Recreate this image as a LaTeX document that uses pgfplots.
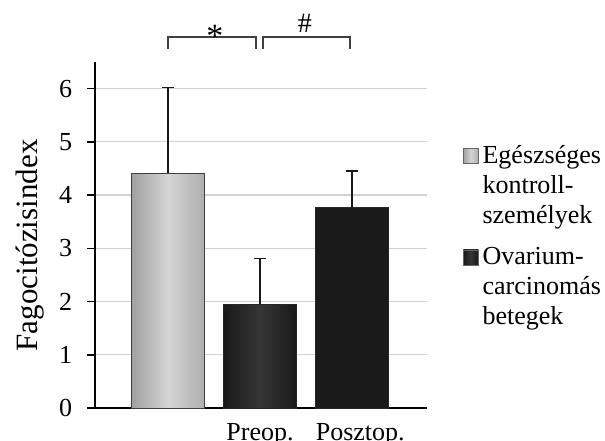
\documentclass[border=0pt]{standalone}
\usepackage{pgfplots}
\pgfplotsset{compat=1.18}
\usepackage{fontspec}
\setmainfont{Liberation Serif}
\definecolor{lgA}{HTML}{A0A0A0}
\definecolor{lgB}{HTML}{D4D4D4}
\definecolor{dkA}{HTML}{181818}
\definecolor{dkB}{HTML}{363636}
\definecolor{dk}{HTML}{1A1A1A}
\begin{document}
\fontsize{26}{30}\selectfont
\begin{tikzpicture}
\useasboundingbox (-95pt,-33pt) rectangle (510pt,408pt);
\begin{axis}[
  at={(0,0)}, anchor=south west,
  scale only axis, width=332pt, height=346pt,
  xmin=0.207, xmax=3.815, ymin=0, ymax=6.5,
  ybar, bar width=0.8, bar shift=0pt,
  axis lines*=left,
  axis line style={line width=1.5pt, black},
  ytick={0,...,6}, xtick={2,3.09}, xticklabels={Preop.,Posztop.},
  tick align=outside, major tick length=8pt,
  ytick style={line width=1.5pt, black},
  xtick style={draw=none},
  ymajorgrids, grid style={line width=1.3pt, black!18},
  /pgf/number format/assume math mode=true,
  tick label style={font=\fontsize{26}{30}\selectfont},
  yticklabel style={xshift=-6pt},
  xticklabel style={anchor=base, yshift=-25pt},
  ylabel={Fagocitózisindex},
  ylabel style={at={(axis description cs:-0.196,0.47)}, anchor=center, font=\fontsize{31}{31}\selectfont},
  clip=false,
  legend style={at={(axis cs:4.206,4.997)}, anchor=north west, draw=none, fill=none,
    inner sep=0pt, outer sep=0pt, row sep=77pt, column sep=4pt,
    nodes={inner sep=0pt, outer sep=0pt, anchor=base west},
    font=\fontsize{26}{30}\selectfont},
  legend image code/.code={\draw[#1, draw=black!60, line width=0.6pt] (0pt,0pt) rectangle (15pt,15pt);},
  error bars/y dir=plus, error bars/y explicit,
  error bars/error bar style={line width=1.5pt, black!90},
  error bars/error mark options={rotate=90, mark size=6pt, line width=1.5pt, black!90},
]
\addplot[draw=black!75, line width=0.8pt, left color=lgA, right color=lgA!85!white, middle color=lgB]
  coordinates {(1,4.41) +- (0,1.61)};
\addlegendentry{\begin{tabular}[t]{@{}l@{}}Egészséges\\kontroll-\\személyek\end{tabular}}
\addplot[draw=black!85, line width=0.8pt, left color=dkA, right color=dkA, middle color=dkB]
  coordinates {(2,1.95) +- (0,0.86)};
\addlegendentry{\begin{tabular}[t]{@{}l@{}}Ovarium-\\carcinomás\\betegek\end{tabular}}
\addplot[draw=black!85, line width=0.8pt, fill=dk, forget plot]
  coordinates {(3,3.76) +- (0,0.69)};
\draw[line width=1.2pt, black!75] (axis cs:1,6.745) -- (axis cs:1,6.97) -- (axis cs:1.957,6.97) -- (axis cs:1.957,6.745);
\draw[line width=1.2pt, black!75] (axis cs:2.033,6.745) -- (axis cs:2.033,6.97) -- (axis cs:2.978,6.97) -- (axis cs:2.978,6.745);
\node[anchor=base, inner sep=0pt, font=\fontsize{34}{34}\selectfont] at (axis cs:1.511,6.78) {*};
\node[anchor=base, inner sep=0pt, font=\fontsize{28}{28}\selectfont] at (axis cs:2.489,7.045) {\#};
\end{axis}
\end{tikzpicture}
\end{document}
